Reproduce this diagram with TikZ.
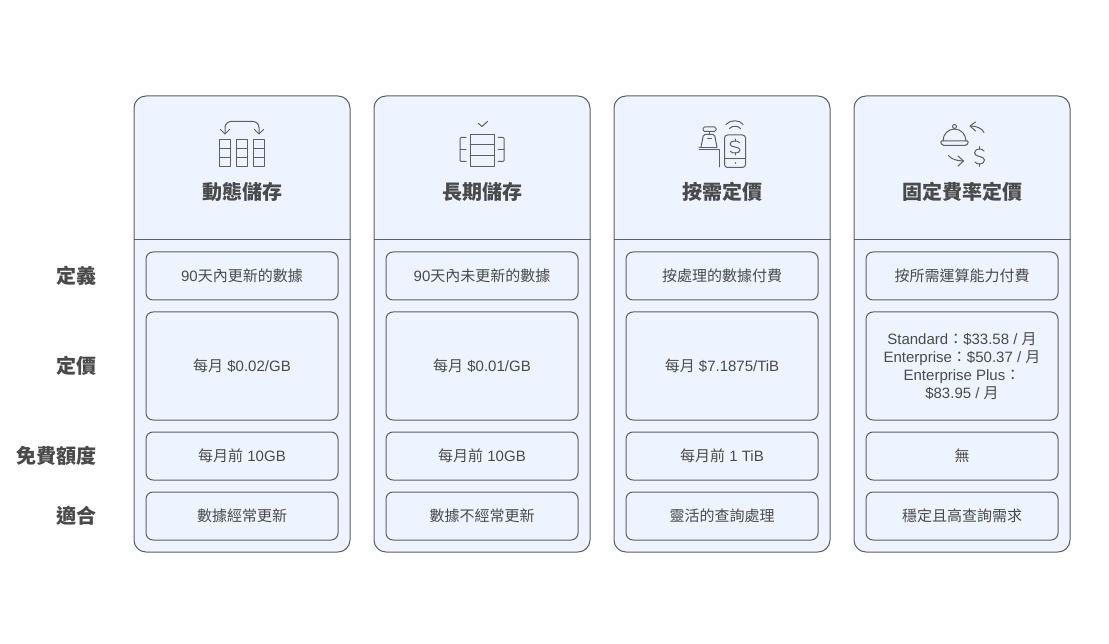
\documentclass[tikz,border=0pt]{standalone}
\usepackage{fontspec}
\setmainfont{Liberation Sans}
\newfontfamily\cjkfont{Noto Sans CJK TC}
\newcommand*{\zh}[1]{{\cjkfont #1}}
\definecolor{cardfill}{HTML}{EEF4FF}
\definecolor{cardline}{HTML}{5C5F64}
\definecolor{inktext}{HTML}{4A4A4A}
\tikzset{
  cardbox/.style = {draw=cardline, fill=cardfill, line width=1pt, rounded corners=12pt, inner sep=0pt, minimum width=216pt, minimum height=456pt},
  cellbox/.style = {draw=cardline, fill=cardfill, line width=1pt, rounded corners=7pt, inner sep=0pt, minimum width=192pt, align=center, text=inktext, font=\fontsize{15}{18}\selectfont},
  titlenode/.style = {text=inktext, inner sep=0pt, font=\cjkfont\bfseries\fontsize{20}{24}\selectfont},
  rowlabel/.style = {text=inktext, inner sep=0pt, anchor=east, font=\cjkfont\bfseries\fontsize{20}{24}\selectfont},
  iconline/.style = {draw=cardline, line width=1pt, line join=round, line cap=round},
}
\newcommand*{\plancard}[7]{%
  \node [cardbox] (card#1) at ({#2+108},324) {};
  \coordinate (line#1) at (0,240);
  \draw [cardline, line width=1pt] (card#1.west |- line#1) -- (card#1.east |- line#1);
  \node [titlenode] (title#1) at ({#2+108},192) {#3};
  \node [cellbox, minimum height=48pt] (def#1) at ({#2+108},276) {#4};
  \node [cellbox, minimum height=108pt] (price#1) at ({#2+108},366) {#5};
  \node [cellbox, minimum height=48pt] (free#1) at ({#2+108},456) {#6};
  \node [cellbox, minimum height=48pt] (fit#1) at ({#2+108},516) {#7};
}
\newcommand*{\dollarsign}[3]{%
  % S curve and its bar, #3 is half of the height
  \draw [iconline] ({#1+4.5},{#2-#3*0.55}) .. controls ({#1+3},{#2-#3*0.85}) and ({#1-5},{#2-#3*0.85}) .. ({#1-5},{#2-#3*0.35})
     .. controls ({#1-5},{#2+#3*0.1}) and ({#1+5},{#2-#3*0.1}) .. ({#1+5},{#2+#3*0.35})
     .. controls ({#1+5},{#2+#3*0.85}) and ({#1-3},{#2+#3*0.85}) .. ({#1-4.5},{#2+#3*0.55});
  \draw [iconline] (#1,{#2-#3}) -- (#1,{#2-#3*0.72}) (#1,{#2+#3*0.72}) -- (#1,{#2+#3});
}
\begin{document}
\begin{tikzpicture}[x=1pt,y=-1pt]
  \useasboundingbox (0,0) rectangle (1109,644);
  \plancard{A}{134}{動態儲存}{90\zh{天內更新的數據}}{\zh{每月} \$0.02/GB}{\zh{每月前} 10GB}{\zh{數據經常更新}}
  \plancard{B}{374}{長期儲存}{90\zh{天內未更新的數據}}{\zh{每月} \$0.01/GB}{\zh{每月前} 10GB}{\zh{數據不經常更新}}
  \plancard{C}{614}{按需定價}{\zh{按處理的數據付費}}{\zh{每月} \$7.1875/TiB}{\zh{每月前} 1 TiB}{\zh{靈活的查詢處理}}
  \plancard{D}{854}{固定費率定價}{\zh{按所需運算能力付費}}{Standard\zh{：}\$33.58 / \zh{月}\\Enterprise\zh{：}\$50.37 / \zh{月}\\Enterprise Plus\zh{：}\\\$83.95 / \zh{月}}{\zh{無}}{\zh{穩定且高查詢需求}}
  \node [rowlabel] (labelDef) at (97,276) {定義};
  \node [rowlabel] (labelPrice) at (97,366) {定價};
  \node [rowlabel] (labelFree) at (97,456) {免費額度};
  \node [rowlabel] (labelFit) at (97,516) {適合};
  % icon of the first card
  \foreach \tx in {219.5,236.5,253.5} {
    \draw [iconline] (\tx,139.5) rectangle ++(11,27.5);
    \draw [iconline] (\tx,148.5) -- ++(11,0) (\tx,157.5) -- ++(11,0);
  }
  \draw [iconline, rounded corners=6pt] (225,134) -- (225,121.5) -- (259,121.5) -- (259,134);
  \draw [iconline] (220.5,129.5) -- (225,134) -- (229.5,129.5);
  \draw [iconline] (254.5,129.5) -- (259,134) -- (263.5,129.5);
  % icon of the second card
  \draw [iconline] (470,134.5) rectangle (494,166.5);
  \draw [iconline] (470,145) -- (494,145) (470,156) -- (494,156);
  \draw [iconline, rounded corners=1pt] (466,137.5) -- (460,137.5) -- (460,161.5) -- (466,161.5);
  \draw [iconline] (460,149.5) -- (466,149.5);
  \draw [iconline, rounded corners=1pt] (498,137.5) -- (504,137.5) -- (504,161.5) -- (498,161.5);
  \draw [iconline] (498,149.5) -- (504,149.5);
  \draw [iconline] (478.5,123.5) -- (482,126.5) -- (487.5,121.5);
  % icon of the third card
  \draw [iconline, rounded corners=3pt] (724.5,135) rectangle (745.5,167.5);
  \draw [iconline] (724.5,159) -- (745.5,159);
  \fill [cardline] (735.5,163) circle (0.8);
  \dollarsign{735}{147}{8}
  \draw [iconline] (726,124.5) .. controls (730,119.5) and (740,119.5) .. (743,124.5);
  \draw [iconline] (729.5,128.5) .. controls (732,125.5) and (738,125.5) .. (740.5,128.5);
  \draw [iconline, rounded corners=1.5pt] (703,127) rectangle (716,131.5);
  \draw [iconline] (709.5,131.5) -- (709.5,134.5);
  \draw [iconline, rounded corners=1.5pt] (701,147) -- (703.5,134.5) -- (714.5,134.5) -- (717,147);
  \draw [iconline] (707.5,138.5) -- (711.5,138.5);
  \draw [iconline] (699,150) -- (719.5,150) -- (719.5,167);
  \draw [iconline] (699,147.5) -- (717,147.5);
  % icon of the fourth card
  \draw [iconline] (943,141) arc[start angle=180, end angle=0, x radius=11.5, y radius=-12];
  \draw [iconline] (954.5,126.5) circle (2);
  \draw [iconline, rounded corners=1.5pt] (940,141) -- (969,141) -- (966.5,145.5) -- (942.5,145.5) -- cycle;
  \draw [iconline] (984,132.5) .. controls (982,128) and (976,126) .. (970,126);
  \draw [iconline] (975.5,122) -- (970,126) -- (975.5,131);
  \draw [iconline] (948.5,155.5) .. controls (951,159) and (957,161) .. (963.5,161);
  \draw [iconline] (958,156) -- (963.5,161) -- (958,166);
  \dollarsign{979.5}{156.5}{10}
\end{tikzpicture}
\end{document}
